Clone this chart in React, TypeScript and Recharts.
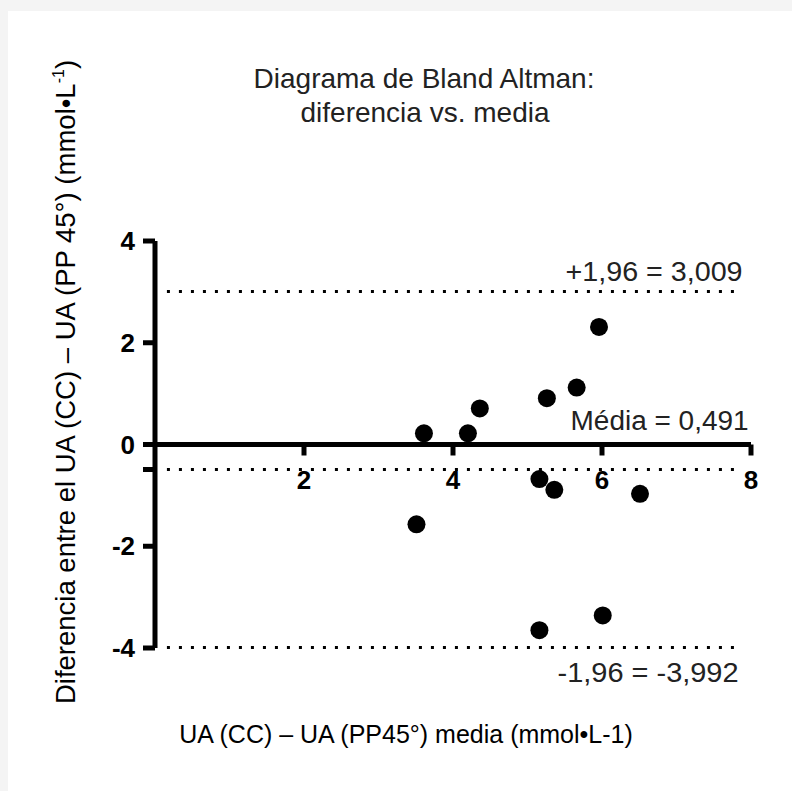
import React from 'react';
import {
    ScatterChart,
    Scatter,
    XAxis,
    YAxis,
    ReferenceLine
} from 'recharts';

// Bland-Altman: mean of both methods vs. their difference
const MEAN_VALUES = [3.61, 4.2, 4.36, 5.26, 5.66, 5.96, 3.51, 5.16, 5.36, 6.51, 6.01, 5.16];
const DIFF_VALUES = [0.22, 0.22, 0.71, 0.91, 1.12, 2.31, -1.57, -0.68, -0.89, -0.97, -3.36, -3.65];

const X_TICKS = [2, 4, 6, 8];
const Y_TICKS = [-4, -2, 0, 2, 4];

const BIAS = -0.491;
const UPPER_LOA = 3.009;
const LOWER_LOA = -3.992;

const UPPER_TEXT = '+1,96 = 3,009';
const BIAS_TEXT = 'Média = 0,491';
const LOWER_TEXT = '-1,96 = -3,992';

const TITLE = ['Diagrama de Bland Altman:', 'diferencia vs. media'];
const X_TITLE = 'UA (CC) – UA (PP45°) media (mmol•L-1)';

const data = MEAN_VALUES.map((x, i) => ({ x, y: DIFF_VALUES[i] }));

const W = 792;
const H = 791;
const Y_AXIS_W = 60;
const X_AXIS_H = 30;
const MARGIN = { top: 241, right: 41, bottom: 143 - X_AXIS_H, left: 155 - Y_AXIS_W };
const X_DOMAIN: [number, number] = [0, 8];
const Y_DOMAIN: [number, number] = [-4, 4];
const PLOT_H = H - 241 - 143;
const ZERO_Y = MARGIN.top + (PLOT_H * Y_DOMAIN[1]) / (Y_DOMAIN[1] - Y_DOMAIN[0]);

// dotted lines don't start at the axis
const LINE_START = 0.16;
const LINE_END = 7.86;

const FONT = '"Liberation Sans", Arial, Helvetica, sans-serif';

const XTick = (props: any) => {
    const { x, payload } = props;
    return (
        <g>
            <line x1={x} x2={x} y1={ZERO_Y} y2={ZERO_Y + 11} stroke="#000" strokeWidth={5} />
            <text
                x={x}
                y={ZERO_Y + 44}
                textAnchor="middle"
                fontSize={26}
                fontWeight="bold"
                fontFamily={FONT}
                fill="#000"
            >
                {payload.value}
            </text>
        </g>
    );
};

const lineLabel = (text: string, dx: number, dy: number, len: number) => (props: any) => {
    const vb = props.viewBox || {};
    const right = (vb.x || 0) + (vb.width || 0);
    return (
        <text
            x={right + dx}
            y={(vb.y || 0) + dy}
            textAnchor="end"
            fontSize={27}
            fontFamily={FONT}
            fill="#222"
            textLength={len}
            lengthAdjust="spacingAndGlyphs"
        >
            {text}
        </text>
    );
};

const Dot = (props: any) => <circle cx={props.cx} cy={props.cy} r={9} fill="#000" />;

export default function App() {
    return (
        <div style={{ position: 'absolute', left: 0, top: 0, width: W, height: H, background: '#f4f4f4' }}>
            <div style={{ position: 'absolute', left: 8, top: 11, right: 0, bottom: 0, background: '#fff' }} />

            <div style={{ position: 'absolute', left: 0, top: 0 }}>
                <ScatterChart width={W} height={H} margin={MARGIN}>
                    <XAxis
                        type="number"
                        dataKey="x"
                        domain={X_DOMAIN}
                        ticks={X_TICKS}
                        height={X_AXIS_H}
                        axisLine={false}
                        tickLine={false}
                        tick={<XTick />}
                        interval={0}
                    />
                    <YAxis
                        type="number"
                        dataKey="y"
                        domain={Y_DOMAIN}
                        ticks={[...Y_TICKS, BIAS].sort((a, b) => a - b)}
                        width={Y_AXIS_W}
                        interval={0}
                        axisLine={{ stroke: '#000', strokeWidth: 5 }}
                        tickLine={{ stroke: '#000', strokeWidth: 5 }}
                        tickSize={12}
                        tickMargin={8}
                        tick={{ fill: '#000', fontSize: 26, fontWeight: 'bold', fontFamily: FONT }}
                        tickFormatter={(v: number) => (Number.isInteger(v) ? String(v) : '')}
                    />

                    <ReferenceLine y={0} stroke="#000" strokeWidth={5} />

                    <ReferenceLine
                        segment={[{ x: LINE_START, y: UPPER_LOA }, { x: LINE_END, y: UPPER_LOA }]}
                        stroke="#000"
                        strokeWidth={3}
                        strokeDasharray="3 9"
                        label={lineLabel(UPPER_TEXT, 2, -10, 177)}
                    />
                    <ReferenceLine
                        segment={[{ x: LINE_START, y: BIAS }, { x: LINE_END, y: BIAS }]}
                        stroke="#000"
                        strokeWidth={3}
                        strokeDasharray="3 9"
                        label={lineLabel(BIAS_TEXT, 8, -39, 178)}
                    />
                    <ReferenceLine
                        segment={[{ x: LINE_START, y: LOWER_LOA }, { x: LINE_END, y: LOWER_LOA }]}
                        stroke="#000"
                        strokeWidth={3}
                        strokeDasharray="3 9"
                        label={lineLabel(LOWER_TEXT, -2, 34, 181)}
                    />

                    <Scatter data={data} fill="#000" shape={<Dot />} isAnimationActive={false} />
                </ScatterChart>
            </div>

            {/* titles */}
            <svg
                width={W}
                height={H}
                style={{ position: 'absolute', left: 0, top: 0, pointerEvents: 'none' }}
            >
                <text x={424} y={88} textAnchor="middle" fontSize={28} fontFamily={FONT} fill="#222">
                    {TITLE[0]}
                </text>
                <text x={425} y={122} textAnchor="middle" fontSize={28} fontFamily={FONT} fill="#222">
                    {TITLE[1]}
                </text>
                <text x={406} y={743} textAnchor="middle" fontSize={25} fontFamily={FONT} fill="#000">
                    {X_TITLE}
                </text>
                <text
                    x={75}
                    y={382}
                    textAnchor="middle"
                    fontSize={27.5}
                    fontFamily={FONT}
                    fill="#000"
                    transform="rotate(-90 75 382)"
                >
                    Diferencia entre el UA (CC) – UA (PP 45°) (mmol•L
                    <tspan dy={-11} fontSize={16}>-1</tspan>
                    <tspan dy={11}>)</tspan>
                </text>
            </svg>
        </div>
    );
}
